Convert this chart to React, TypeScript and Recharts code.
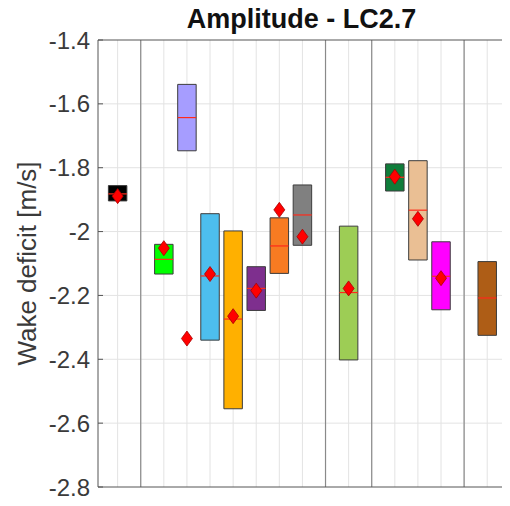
import React from 'react';
import {
  ComposedChart,
  XAxis,
  YAxis,
  ReferenceArea,
  ReferenceLine,
  Scatter,
  Label,
} from 'recharts';

// Box positions along the x axis (slots 2, 10, 12 and 16 are group separators)
const positions = [1, 3, 4, 5, 6, 7, 8, 9, 11, 13, 14, 15, 17];
// Upper and lower edge of each box [m/s]
const boxTop = [-1.856, -2.04, -1.539, -1.944, -1.998, -2.11, -1.957, -1.854, -1.983, -1.788, -1.778, -2.032, -2.094];
const boxBottom = [-1.904, -2.133, -1.747, -2.34, -2.555, -2.247, -2.131, -2.043, -2.402, -1.873, -2.089, -2.245, -2.325];
// Median line inside each box
const medians = [-1.882, -2.087, -1.643, -2.139, -2.274, -2.178, -2.045, -1.948, -2.191, -1.83, -1.933, -2.14, -2.208];
// Mean marker (diamond); the last box has none
const means: (number | null)[] = [-1.889, -2.052, -2.335, -2.133, -2.265, -2.185, -1.932, -2.016, -2.178, -1.828, -1.96, -2.146, null];
const boxColors = [
  '#000000', '#00ff00', '#a69dff', '#4dbeee', '#ffb000', '#7e2f8e', '#f77b22',
  '#808080', '#9dcd55', '#0f7d3a', '#eabf94', '#ff00ff', '#ae5d16',
];
const groupDividers = [2, 10, 12, 16];
const xTicks = [1, 2, 3, 4, 5, 6, 7, 8, 9, 10, 11, 12, 13, 14, 15, 16, 17];
const yTicks = [-2.8, -2.6, -2.4, -2.2, -2, -1.8, -1.6, -1.4];

const X_DOMAIN: [number, number] = [0.15, 17.77];
const Y_DOMAIN: [number, number] = [-2.8, -1.4];
const HALF_BOX = 0.4;
const AXIS_COLOR = '#555555';
const GRID_COLOR = '#e3e3e3';
const FONT = '"Liberation Sans", Arial, Helvetica, sans-serif';

const meanPoints = positions
  .map((x, i) => ({ x, y: means[i] }))
  .filter((p) => p.y !== null);

const Diamond = (props: any) => {
  const { cx, cy } = props;
  if (cx == null || cy == null) return null;
  const w = 5.5;
  const h = 7.5;
  return (
    <polygon
      points={`${cx},${cy - h} ${cx + w},${cy} ${cx},${cy + h} ${cx - w},${cy}`}
      fill="#ff0000"
      stroke="#a80000"
      strokeWidth={0.8}
    />
  );
};

const fmt = (v: number) => String(Number(v.toFixed(1)));

export default function App() {
  return (
    <div style={{ fontFamily: FONT, margin: '-8px 0 0 -8px', width: 510, height: 506 }}>
      <ComposedChart
        width={510}
        height={506}
        margin={{ top: 39, right: 4, bottom: 18, left: 0 }}
        style={{ fontFamily: FONT }}
      >
        <text
          x={301.5}
          y={28}
          textAnchor="middle"
          fontFamily={FONT}
          fontWeight="bold"
          fontSize={27}
          fill="#111111"
        >
          Amplitude - LC2.7
        </text>
        <XAxis
          dataKey="x"
          type="number"
          domain={X_DOMAIN}
          ticks={xTicks}
          allowDataOverflow
          height={1}
          tick={false}
          tickSize={-5}
          stroke={AXIS_COLOR}
        />
        <XAxis
          xAxisId="top"
          type="number"
          orientation="top"
          domain={X_DOMAIN}
          ticks={xTicks}
          allowDataOverflow
          height={1}
          tick={false}
          tickSize={-5}
          stroke={AXIS_COLOR}
        />
        <YAxis
          type="number"
          domain={Y_DOMAIN}
          ticks={yTicks}
          allowDataOverflow
          width={98}
          tickSize={-5}
          tickMargin={13}
          tickFormatter={fmt}
          stroke={AXIS_COLOR}
          tick={{ fill: '#3a3a3a', fontSize: 24, fontFamily: FONT }}
        >
          <Label
            content={(p: any) => {
              const vb = p.viewBox || {};
              const cx = (vb.x ?? 0) + 36;
              const cy = (vb.y ?? 0) + (vb.height ?? 0) / 2;
              return (
                <text
                  x={cx}
                  y={cy}
                  transform={`rotate(-90, ${cx}, ${cy})`}
                  textAnchor="middle"
                  fontFamily={FONT}
                  fontSize={26}
                  fill="#3a3a3a"
                >
                  Wake deficit [m/s]
                </text>
              );
            }}
          />
        </YAxis>
        <YAxis
          yAxisId="right"
          type="number"
          orientation="right"
          domain={Y_DOMAIN}
          ticks={yTicks}
          allowDataOverflow
          width={1}
          tick={false}
          tickSize={-5}
          stroke={AXIS_COLOR}
        />
        {/* light grid, kept underneath the boxes */}
        {xTicks.map((x) => (
          <ReferenceLine key={`gx${x}`} x={x} stroke={GRID_COLOR} strokeWidth={1} zIndex={-100} />
        ))}
        {yTicks.slice(1, -1).map((y) => (
          <ReferenceLine key={`gy${y}`} y={y} stroke={GRID_COLOR} strokeWidth={1} zIndex={-100} />
        ))}
        {groupDividers.map((x) => (
          <ReferenceLine key={`d${x}`} x={x} stroke="#8a8a8a" strokeWidth={1.2} zIndex={-90} />
        ))}
        {positions.map((x, i) => (
          <ReferenceArea
            key={`b${x}`}
            x1={x - HALF_BOX}
            x2={x + HALF_BOX}
            y1={boxBottom[i]}
            y2={boxTop[i]}
            fill={boxColors[i]}
            fillOpacity={1}
            stroke="#3c3c3c"
            strokeWidth={1}
          />
        ))}
        {positions.map((x, i) => (
          <ReferenceLine
            key={`m${x}`}
            segment={[
              { x: x - HALF_BOX, y: medians[i] },
              { x: x + HALF_BOX, y: medians[i] },
            ]}
            stroke="#ff2a1a"
            strokeWidth={1.2}
          />
        ))}
        <Scatter
          data={meanPoints}
          dataKey="y"
          shape={<Diamond />}
          isAnimationActive={false}
        />
      </ComposedChart>
    </div>
  );
}
